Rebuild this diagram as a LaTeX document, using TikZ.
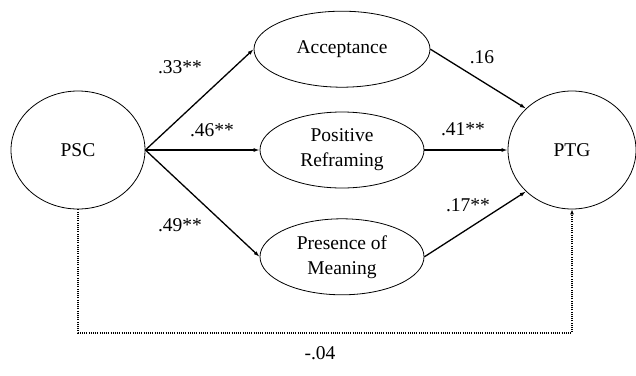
\documentclass[tikz,border=0pt]{standalone}
\usepackage{fontspec}
\setmainfont{Liberation Serif}
\usetikzlibrary{shapes.geometric,positioning,arrows.meta}

\begin{document}
\begin{tikzpicture}[x=1pt, y=-1pt,
	main/.style = {draw, ellipse, line width=0.8pt, inner sep=0pt, minimum width=134pt, minimum height=118pt},
	med/.style = {draw, ellipse, line width=0.8pt, inner sep=0pt, minimum width=164pt, minimum height=76pt, align=center},
	link/.style = {line width=1.3pt, -{Latex[length=6pt,width=4pt]}},
	direct/.style = {line width=1.1pt, dash pattern=on 1pt off 1.2pt, -{Latex[length=5pt,width=4pt]}},
	font=\fontsize{19.5}{25}\selectfont]
	\useasboundingbox (0,0) rectangle (636,375);
	\node[main] (psc) at (78,150) {PSC};
	\node[med] (pr) at (342,150) {Positive\\Reframing};
	\node[med, minimum width=176pt] (acc) [above = 24pt of pr] {Acceptance};
	\node[med] (pom) [below = 30pt of pr] {Presence of\\Meaning};
	\node[main, minimum width=128pt] (ptg) at (572,150) {PTG};
	\coordinate (low) at (320,333);
	\draw[link] (psc.east) -- (acc.west);
	\draw[link] (psc.east) -- (pr.west);
	\draw[link] (psc.east) -- (pom.west);
	\draw[link] (acc.east) -- (ptg.138);
	\draw[link] (pr.east) -- (ptg.west);
	\draw[link] (pom.east) -- (ptg.222);
	\draw[direct] (psc.south) |- (low) -| (ptg.south);
	% path coefficients
	\node (a1) at (180,67) {.33**};
	\node (a2) at (212,130) {.46**};
	\node (a3) at (180,225) {.49**};
	\node (b1) at (482,57) {.16};
	\node (b2) at (463,129) {.41**};
	\node (b3) at (468,205) {.17**};
	\node (c) at (320,353) {-.04};
\end{tikzpicture}
\end{document}
